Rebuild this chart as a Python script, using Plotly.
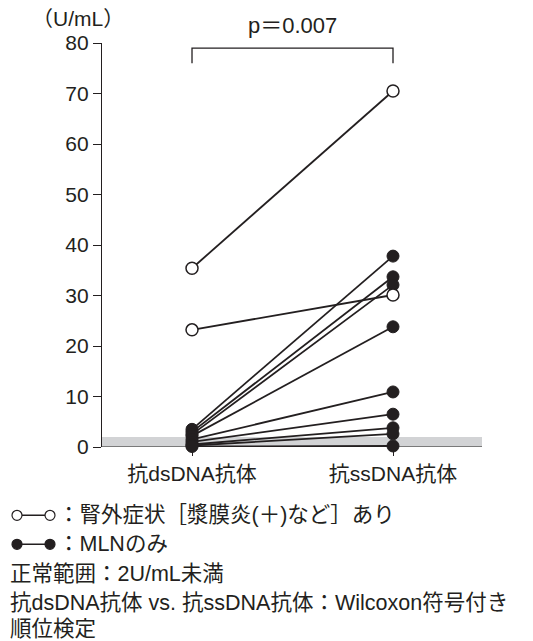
import plotly.graph_objects as go

categories = ["抗dsDNA抗体", "抗ssDNA抗体"]
# open circles: extrarenal symptoms (serositis etc.)
open_ds = [35.4, 23.2]
open_ss = [70.5, 30.1]
# filled circles: MLN only
filled_ds = [3.5, 3.0, 2.5, 2.2, 1.5, 1.0, 0.5, 0.3, 0.1]
filled_ss = [37.8, 33.7, 32.1, 23.8, 10.9, 6.5, 3.8, 2.6, 0.2]
yticks = [0, 10, 20, 30, 40, 50, 60, 70, 80]
normal_upper = 2
p_text = "p＝0.007"
legend_lines = [
    "：腎外症状［漿膜炎(＋)など］あり",
    "：MLNのみ",
    "正常範囲：2U/mL未満",
    "抗dsDNA抗体 vs. 抗ssDNA抗体：Wilcoxon符号付き",
    "順位検定",
]

OFF = 8  # page body margin
W, H = 533 - OFF, 641 - OFF
L, T = 102 - OFF, 42.7 - OFF
right_px, bottom_px = 482 - OFF, 446.7 - OFF
R, B = W - right_px, H - bottom_px
pw, ph = W - L - R, H - T - B

def px(x):
    return (x - OFF - L) / pw

def py(y):
    return (H - B - (y - OFF)) / ph

FONT = "Liberation Sans, Noto Sans CJK JP, sans-serif"
INK = "#231f20"

fig = go.Figure()

# gray normal range band
fig.add_shape(type="rect", xref="paper", yref="y", x0=0, x1=1, y0=0, y1=normal_upper,
              fillcolor="#d2d3d5", line=dict(width=0), layer="below")
fig.add_shape(type="line", xref="paper", yref="y", x0=0, x1=1, y0=0, y1=0,
              line=dict(color="#7a7a7a", width=2), layer="below")

for a, b in zip(filled_ds, filled_ss):
    fig.add_trace(go.Scatter(x=[0, 1], y=[a, b], mode="lines+markers",
                             line=dict(color=INK, width=1.8),
                             marker=dict(size=12, color=INK, line=dict(color=INK, width=1)),
                             cliponaxis=False, showlegend=False))
for a, b in zip(open_ds, open_ss):
    fig.add_trace(go.Scatter(x=[0, 1], y=[a, b], mode="lines+markers",
                             line=dict(color=INK, width=1.8),
                             marker=dict(size=12, color="white", line=dict(color=INK, width=1.5)),
                             cliponaxis=False, showlegend=False))

# significance bracket
fig.add_shape(type="path", xref="x", yref="y",
              path="M 0 76.0 L 0 79.0 L 1 79.0 L 1 76.0",
              line=dict(color=INK, width=1.3))
fig.add_annotation(x=0.5, y=py(25), xref="x", yref="paper", text=p_text, showarrow=False,
                   font=dict(size=22, color=INK, family=FONT), yanchor="middle")
fig.add_annotation(x=px(78), y=py(18), xref="paper", yref="paper", text="（U/mL）", showarrow=False,
                   font=dict(size=21, color=INK, family=FONT), xanchor="center", yanchor="middle")

# legend area
ys = [515, 544, 574, 603, 629]
for i, (txt, yy) in enumerate(zip(legend_lines, ys)):
    x0 = 56 if i < 2 else 8
    fig.add_annotation(x=px(x0), y=py(yy), xref="paper", yref="paper", text=txt, showarrow=False,
                       font=dict(size=21.5, color=INK, family=FONT), xanchor="left", yanchor="middle")

# legend symbols
for i, filled in enumerate([False, True]):
    yy = ys[i]
    fig.add_shape(type="line", xref="paper", yref="paper", x0=px(17), x1=px(50), y0=py(yy), y1=py(yy),
                  line=dict(color=INK, width=1.5))
    for cx in (17, 50):
        r = 5
        fig.add_shape(type="circle", xref="paper", yref="paper",
                      x0=px(cx - r), x1=px(cx + r), y0=py(yy - r), y1=py(yy + r),
                      fillcolor=INK if filled else "white",
                      line=dict(color=INK, width=1.2))

fig.update_layout(
    width=W, height=H, margin=dict(l=L, r=R, t=T, b=B),
    plot_bgcolor="white", paper_bgcolor="white",
    font=dict(family=FONT, color=INK),
    xaxis=dict(range=[-0.4478, 1.4428], tickvals=[0, 1], ticktext=categories,
               ticks="outside", ticklen=8, tickcolor=INK, tickwidth=1.3,
               showline=False, showgrid=False, zeroline=False,
               tickfont=dict(size=21, color=INK)),
    yaxis=dict(range=[0, 80], tickvals=yticks, ticks="outside", ticklen=8,
               tickcolor=INK, tickwidth=1.3, showline=True, linecolor=INK,
               linewidth=1.3, showgrid=False, zeroline=False,
               tickfont=dict(size=21, color=INK)),
)

fig.write_html("out.html")
